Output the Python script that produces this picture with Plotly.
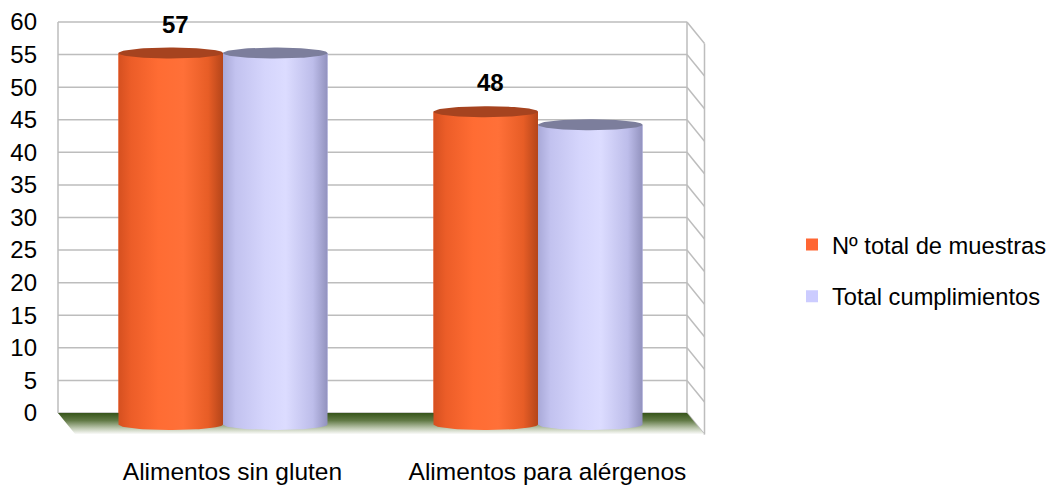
import numpy as np
import plotly.graph_objects as go

# ---- data ----
categories = ["Alimentos sin gluten", "Alimentos para alérgenos"]
series_names = ["Nº total de muestras", "Total cumplimientos"]
muestras = [57, 48]
cumplimientos = [57, 46]
y_ticks = list(range(0, 61, 5))

# ---- styling / geometry constants ----
FONT = "Liberation Sans, Arial, sans-serif"
legend_colors = ["#FF6633", "#CCCCFF"]
body_scales = [
    [[0, "#D55020"], [0.12, "#EC5D28"], [0.38, "#FF6C33"], [0.62, "#FF7038"],
     [0.86, "#E75D26"], [1, "#B4451A"]],
    [[0, "#A9A9D8"], [0.12, "#C2C2EF"], [0.4, "#D5D5FC"], [0.6, "#DCDCFF"],
     [0.86, "#BDBDEA"], [1, "#9292BE"]],
]
cap_colors = ["#A6431F", "#7C7E9C"]

W, H = 1056, 487
PL, PR, PT, PB = 48, 714, 18, 440          # plot area in pixels
SX = 315.0                                 # px per category step
SY = (413 - 22) / 60.0                     # px per y unit
x_range = [-(223 - PL) / SX, 1 + (PR - 538) / SX]
y_range = [-(PB - 413) / SY, 60 + (22 - PT) / SY]

bar_w = 104.5 / SX                         # width of one cylinder (x units)
bargap = 1 - 2 * bar_w
base = -11.5 / SY                          # cylinders sit mid-depth on the floor
ry = 5.5 / SY                              # ellipse half-height (y units)
depth_dx = 17.5 / SX
depth_dy = 21.5 / SY
wall_l = (58 - 223) / SX
wall_r = 1 + (687 - 538) / SX

fig = go.Figure()

# floor
fig.add_trace(go.Scatter(
    x=[wall_l, wall_r, wall_r + depth_dx, wall_l + depth_dx, wall_l],
    y=[0, 0, -depth_dy, -depth_dy, 0],
    mode="lines", line=dict(width=0), fill="toself",
    fillgradient=dict(type="vertical",
                      colorscale=[[0, "#FFFFFF"], [0.3, "#BCC7AE"], [0.65, "#627A46"], [1, "#36541A"]]),
    showlegend=False, hoverinfo="skip"))

# flat bars (legend entries), covered by shaded cylinders below
for k, (name, vals) in enumerate(zip(series_names, [muestras, cumplimientos])):
    fig.add_trace(go.Bar(
        x=[0, 1], y=vals, base=[base, base], name=name,
        marker=dict(color=legend_colors[k], line=dict(width=0)),
        offsetgroup=str(k), legendgroup=str(k), hoverinfo="skip"))

# shaded cylinder bodies and caps
t_half = np.linspace(0, np.pi, 48)
t_full = np.linspace(0, 2 * np.pi, 96)
hw = bar_w / 2
for k, vals in enumerate([muestras, cumplimientos]):
    for i, v in enumerate(vals):
        xc = i - hw if k == 0 else i + hw
        top = base + v
        xs = [xc - hw, xc + hw, xc + hw] + list(xc + hw * np.cos(t_half)) + [xc - hw]
        ys = [top, top, base] + list(base - ry * np.sin(t_half)) + [top]
        fig.add_trace(go.Scatter(
            x=xs, y=ys, mode="lines", line=dict(width=0), fill="toself",
            fillgradient=dict(type="horizontal", colorscale=body_scales[k]),
            showlegend=False, hoverinfo="skip"))
        fig.add_trace(go.Scatter(
            x=list(xc + hw * np.cos(t_full)), y=list(top + ry * np.sin(t_full)),
            mode="lines", line=dict(width=0), fill="toself", fillcolor=cap_colors[k],
            showlegend=False, hoverinfo="skip"))

# value labels on the first series
for i, v in enumerate(muestras):
    fig.add_annotation(x=i - hw, y=base + v, text=f"<b>{v}</b>", showarrow=False,
                       xshift=5, yshift=29,
                       font=dict(family=FONT, size=24, color="#000000"))

# back wall gridlines and side wall
grid = dict(color="#BDBDBD", width=1.5)
shapes = []
for v in y_ticks:
    shapes.append(dict(type="line", xref="x", yref="y", x0=wall_l, x1=wall_r, y0=v, y1=v,
                       line=grid, layer="below"))
    shapes.append(dict(type="line", xref="x", yref="y", x0=wall_r, x1=wall_r + depth_dx,
                       y0=v, y1=v - depth_dy, line=grid, layer="below"))
shapes.append(dict(type="line", xref="x", yref="y", x0=wall_l, x1=wall_l, y0=0, y1=60,
                   line=grid, layer="below"))
shapes.append(dict(type="line", xref="x", yref="y", x0=wall_r, x1=wall_r, y0=0, y1=60,
                   line=grid, layer="below"))
shapes.append(dict(type="line", xref="x", yref="y", x0=wall_r + depth_dx, x1=wall_r + depth_dx,
                   y0=-depth_dy, y1=60 - depth_dy, line=grid, layer="below"))

fig.update_layout(
    width=W, height=H, autosize=False,
    margin=dict(l=PL, r=W - PR, t=PT, b=H - PB, pad=0),
    paper_bgcolor="white", plot_bgcolor="white",
    barmode="group", bargap=bargap, bargroupgap=0,
    shapes=shapes,
    font=dict(family=FONT, size=24, color="#000000"),
    xaxis=dict(range=x_range, tickmode="array", tickvals=[0.03, 1.03], ticktext=categories,
               showgrid=False, zeroline=False, showline=False, ticks="", automargin=False,
               ticklabelstandoff=14, tickfont=dict(size=24.5)),
    yaxis=dict(range=y_range, tickmode="array", tickvals=y_ticks,
               showgrid=False, zeroline=False, showline=False, ticks="", automargin=False,
               ticklabelstandoff=10, tickfont=dict(size=24)),
    legend=dict(xref="container", yref="container", x=792 / W, xanchor="left",
                y=1 - 270.5 / H, yanchor="middle", tracegroupgap=18, font=dict(size=23.7),
                bgcolor="rgba(0,0,0,0)"),
    showlegend=True,
)

fig.write_html("out.html")
